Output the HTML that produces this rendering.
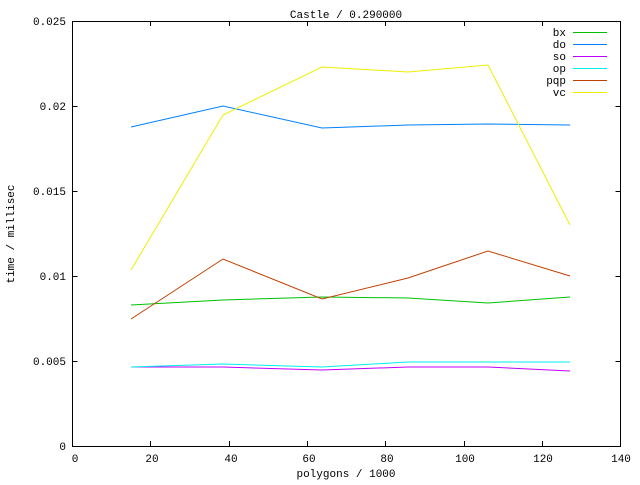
<!DOCTYPE html>
<html><head><style>body{margin:0;background:#fff}svg text{font-family:"Liberation Mono","DejaVu Sans Mono",monospace;font-size:11px}</style></head>
<body>
<svg width="640" height="480" xmlns="http://www.w3.org/2000/svg" shape-rendering="crispEdges">
<rect width="640" height="480" fill="#fff"/>
<g stroke="#000" fill="none">
<rect x="72.5" y="21.5" width="548" height="425"/>
<path d="M72.5 361.5h5M620.5 361.5h-5M72.5 276.5h5M620.5 276.5h-5M72.5 191.5h5M620.5 191.5h-5M72.5 106.5h5M620.5 106.5h-5
M150.5 446v-5M150.5 21v5M229.5 446v-5M229.5 21v5M307.5 446v-5M307.5 21v5M385.5 446v-5M385.5 21v5M464.5 446v-5M464.5 21v5M542.5 446v-5M542.5 21v5"/>
</g>
<g text-anchor="end">
<text x="66" y="450">0</text><text x="66" y="365">0.005</text><text x="66" y="280">0.01</text><text x="66" y="195">0.015</text><text x="66" y="110">0.02</text><text x="66" y="25">0.025</text>
</g>
<g text-anchor="middle">
<text x="75" y="462">0</text><text x="152" y="462">20</text><text x="231" y="462">40</text><text x="309" y="462">60</text><text x="387" y="462">80</text><text x="465" y="462">100</text><text x="543" y="462">120</text><text x="621" y="462">140</text>
<text x="346" y="477">polygons / 1000</text>
<text x="346" y="18">Castle / 0.290000</text>
<text transform="translate(14,234) rotate(-90)">time / millisec</text>
</g>
<g text-anchor="end">
<text x="566" y="36">bx</text><text x="566" y="48">do</text><text x="566" y="60">so</text><text x="566" y="72">op</text><text x="566" y="84">pqp</text><text x="566" y="96">vc</text>
</g>
<g fill="none" stroke-width="1" shape-rendering="auto">
<path stroke="#00c000" d="M573 32.5h34M131 305L223 300L322 297L408 298L488 303L570 297"/>
<path stroke="#0080ff" d="M573 44.5h34M131 127L223 106L322 128L408 125L488 124L570 125"/>
<path stroke="#c000ff" d="M573 56.5h34M131 367L223 367L322 370L408 367L488 367L570 371"/>
<path stroke="#00eeee" d="M573 68.5h34M131 367L223 364L322 367L408 362L488 362L570 362"/>
<path stroke="#c04000" d="M573 80.5h34M131 319L223 259L322 299L408 278L488 251L570 276"/>
<path stroke="#eeee00" d="M573 92.5h34M131 270L223 115L322 67L408 72L488 65L570 225"/>
</g>
</svg>
</body></html>
